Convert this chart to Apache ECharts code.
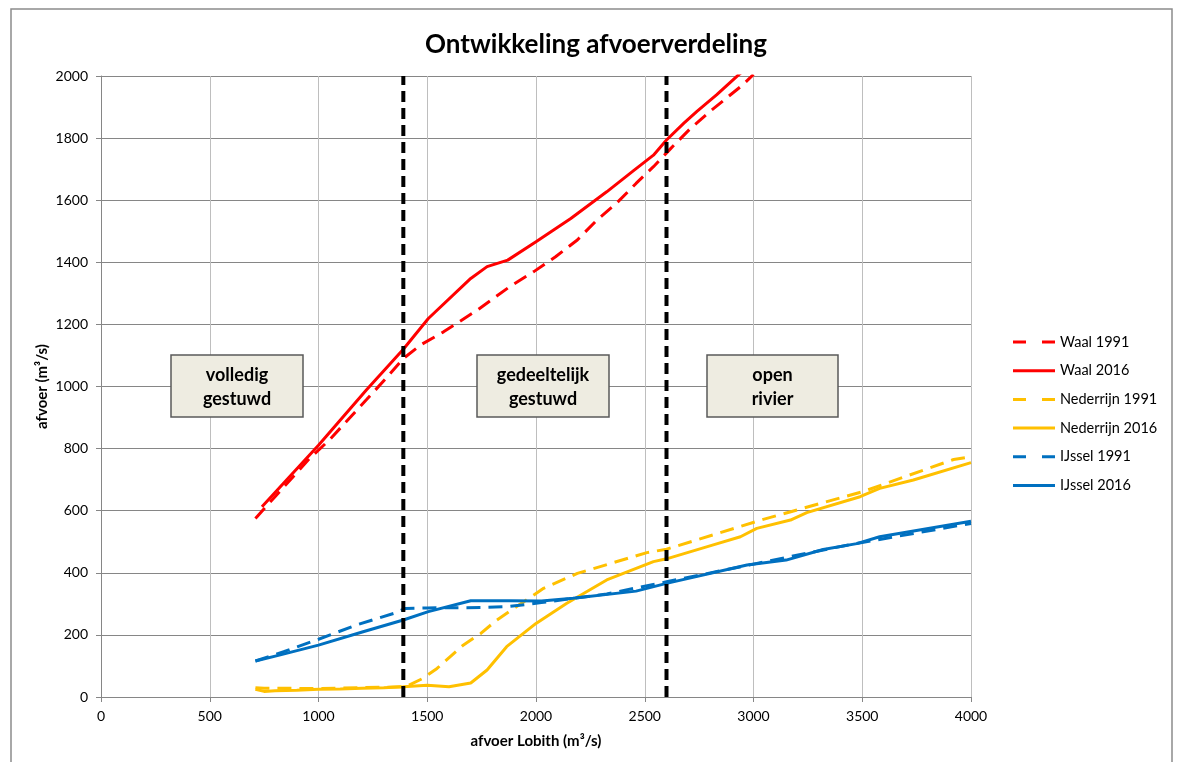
<!DOCTYPE html>
<html>
<head>
<meta charset="utf-8">
<script src="https://cdn.jsdelivr.net/npm/echarts@6/dist/echarts.min.js"></script>
<style>
html,body{margin:0;padding:0;background:#fff;}
#chart{width:1178px;height:762px;}
</style>
</head>
<body>
<div id="chart"></div>
<script>
// ---- data ----
const xTicks = [0, 500, 1000, 1500, 2000, 2500, 3000, 3500, 4000];
const yTicks = [0, 200, 400, 600, 800, 1000, 1200, 1400, 1600, 1800, 2000];

const waal1991X = [710, 800, 960, 1050, 1220, 1310, 1390, 1470, 1575, 1730, 1880, 1990, 2090, 2190, 2280, 2370, 2460, 2540, 2620, 2710, 2800, 2950, 3000];
const waal1991Y = [575, 645, 769, 828, 957, 1026, 1090, 1134, 1176, 1246, 1322, 1370, 1418, 1472, 1536, 1590, 1654, 1708, 1767, 1831, 1886, 1971, 2005];

const waal2016X = [740, 1000, 1220, 1390, 1505, 1700, 1775, 1870, 2000, 2160, 2325, 2450, 2540, 2600, 2680, 2740, 2830, 2930, 2960];
const waal2016Y = [613, 811, 989, 1120, 1219, 1348, 1386, 1407, 1466, 1541, 1627, 1696, 1745, 1794, 1848, 1886, 1939, 2003, 2020];

const ned1991X = [710, 750, 850, 1000, 1200, 1400, 1480, 1545, 1665, 1745, 1820, 2035, 2190, 2510, 2600, 3045, 3505, 3920, 4000];
const ned1991Y = [30, 28, 28, 27, 30, 33, 60, 92, 167, 204, 248, 350, 398, 465, 476, 572, 662, 765, 774];

const ned2016X = [710, 750, 800, 900, 1000, 1100, 1200, 1300, 1390, 1500, 1600, 1700, 1775, 1865, 2000, 2140, 2325, 2540, 2600, 2815, 2940, 3015, 3170, 3245, 3490, 3580, 3735, 4000];
const ned2016Y = [25, 18, 20, 22, 25, 26, 28, 30, 33, 38, 33, 45, 87, 162, 237, 301, 377, 436, 445, 490, 516, 543, 570, 594, 645, 672, 699, 755];

const ijs1991X = [710, 840, 1000, 1175, 1345, 1400, 1500, 1745, 1870, 2025, 2325, 2600, 3000, 3430, 4000];
const ijs1991Y = [116, 146, 186, 232, 269, 285, 287, 288, 291, 304, 332, 371, 428, 489, 559];

const ijs2016X = [710, 820, 1000, 1205, 1390, 1505, 1700, 1880, 2025, 2170, 2460, 2600, 2970, 3150, 3320, 3475, 3580, 4000];
const ijs2016Y = [116, 135, 167, 210, 248, 275, 310, 310, 309, 318, 341, 366, 425, 441, 475, 494, 516, 566];

const boundaryX = [1390, 2600];
const boundaryY = [0, 2000];

const seriesNames = ['Waal 1991', 'Waal 2016', 'Nederrijn 1991', 'Nederrijn 2016', 'IJssel 1991', 'IJssel 2016'];
const zoneLabels = ['volledig\ngestuwd', 'gedeeltelijk\ngestuwd', 'open\nrivier'];

// ---- build ----
const pair = (xs, ys) => xs.map((x, i) => [x, ys[i]]);
const FONT = 'Lato, "Open Sans", sans-serif';
const DASH = [14, 8];

const seriesDefs = [
  [waal1991X, waal1991Y, '#FF0000', true],
  [waal2016X, waal2016Y, '#FF0000', false],
  [ned1991X, ned1991Y, '#FFC000', true],
  [ned2016X, ned2016Y, '#FFC000', false],
  [ijs1991X, ijs1991Y, '#0070C0', true],
  [ijs2016X, ijs2016Y, '#0070C0', false]
];

const series = seriesDefs.map((d, i) => ({
  name: seriesNames[i], type: 'line', data: pair(d[0], d[1]),
  symbol: 'none', showSymbol: false, smooth: false, clip: true,
  lineStyle: { color: d[2], width: 3, type: d[3] ? DASH : 'solid', cap: 'butt' },
  itemStyle: { color: d[2] },
  emphasis: { disabled: true }, z: 3
}));
boundaryX.forEach((bx) => {
  series.push({
    type: 'line', data: boundaryY.map((by) => [bx, by]), symbol: 'none',
    lineStyle: { color: '#000', width: 4, type: [11, 6] }, z: 4,
    emphasis: { disabled: true }, silent: true
  });
});

const boxes = [
  { left: 171, right: 303 },
  { left: 477, right: 609 },
  { left: 707, right: 838 }
];
const graphics = [
  { type: 'rect', shape: { x: 11, y: 9, width: 1161, height: 780 },
    style: { fill: 'none', stroke: '#8c8c8c', lineWidth: 1.5 }, z: 0, silent: true }
];
boxes.forEach((b, i) => {
  graphics.push({
    type: 'rect', shape: { x: b.left, y: 355, width: b.right - b.left, height: 62 },
    style: { fill: '#EEECE1', stroke: '#595959', lineWidth: 1.5 }, z: 10
  });
  graphics.push({
    type: 'text', x: (b.left + b.right) / 2, y: 387, z: 11,
    style: { text: zoneLabels[i], fill: '#000', font: 'bold 18px ' + FONT,
      align: 'center', verticalAlign: 'middle', lineHeight: 24 }
  });
});
// legend (drawn manually so icons match the line styles)
seriesDefs.forEach((d, i) => {
  const y = 342 + i * 28.7;
  graphics.push({
    type: 'line', shape: { x1: 1013, y1: y, x2: 1055, y2: y }, z: 10,
    style: { stroke: d[2], lineWidth: 3, lineDash: d[3] ? [13, 16] : null, lineDashOffset: 0 }
  });
  graphics.push({
    type: 'text', x: 1060, y: y, z: 10,
    style: { text: seriesNames[i], fill: '#000', font: '14.5px ' + FONT,
      align: 'left', verticalAlign: 'middle' }
  });
});

const chart = echarts.init(document.getElementById('chart'), null, { renderer: 'canvas' });
chart.setOption({
  animation: false,
  backgroundColor: '#fff',
  title: {
    text: 'Ontwikkeling afvoerverdeling', left: 591, textAlign: 'center', top: 27,
    textStyle: { fontFamily: FONT, fontWeight: 'bold', fontSize: 26, color: '#000' }
  },
  grid: { left: 101, right: 207, top: 76, bottom: 65, containLabel: false },
  xAxis: {
    type: 'value', min: xTicks[0], max: xTicks[xTicks.length - 1], interval: xTicks[1] - xTicks[0],
    name: 'afvoer Lobith (m³/s)', nameLocation: 'middle', nameGap: 37, nameMoveOverlap: false,
    nameTextStyle: { fontFamily: FONT, fontWeight: 'bold', fontSize: 15, color: '#000' },
    axisLine: { show: true, lineStyle: { color: '#868686', width: 1 } },
    axisTick: { show: true, length: 5, lineStyle: { color: '#868686' } },
    axisLabel: { margin: 12, fontFamily: FONT, fontSize: 14, color: '#000', formatter: (v) => String(v) },
    splitLine: { show: true, lineStyle: { color: '#BEBEBE', width: 1 } }
  },
  yAxis: {
    type: 'value', min: yTicks[0], max: yTicks[yTicks.length - 1], interval: yTicks[1] - yTicks[0],
    name: 'afvoer (m³/s)', nameLocation: 'middle', nameGap: 51, nameRotate: 90, nameMoveOverlap: false,
    nameTextStyle: { fontFamily: FONT, fontWeight: 'bold', fontSize: 15, color: '#000' },
    axisLine: { show: true, lineStyle: { color: '#868686', width: 1 } },
    axisTick: { show: true, length: 5, lineStyle: { color: '#868686' } },
    axisLabel: { margin: 13, fontFamily: FONT, fontSize: 14, color: '#000', formatter: (v) => String(v) },
    splitLine: { show: true, lineStyle: { color: '#868686', width: 1 } }
  },
  series: series,
  graphic: graphics
});
</script>
</body>
</html>
